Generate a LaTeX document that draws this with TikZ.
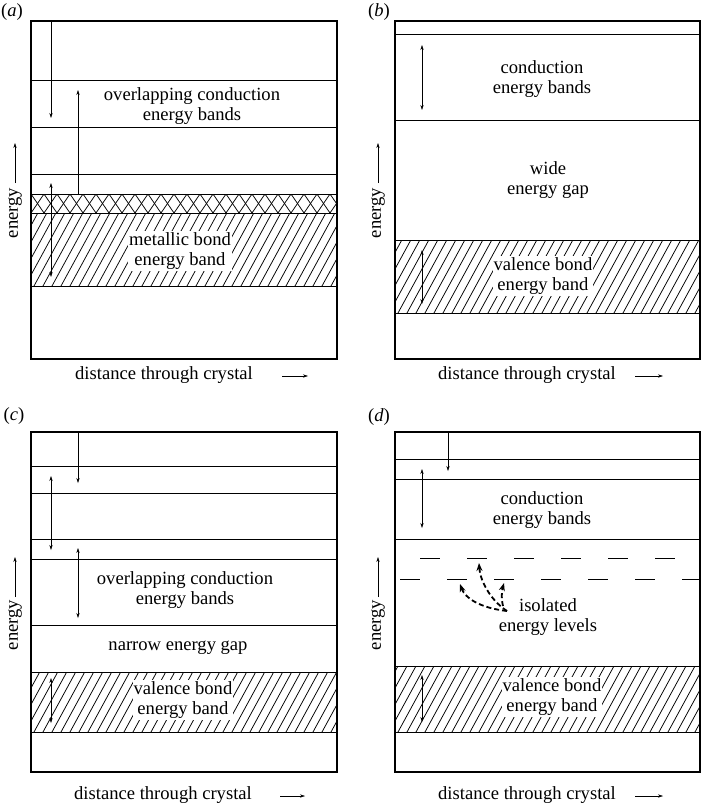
\documentclass[tikz,border=0pt]{standalone}
\usepackage{fontspec}
\setmainfont{Liberation Serif}
\usetikzlibrary{arrows.meta}
\tikzset{>={Stealth[length=5pt,width=3.2pt]}}
\tikzset{
  frame/.style={line width=2pt},
  level/.style={line width=1pt},
  hatchline/.style={line width=0.75pt},
  lbl/.style={align=center, inner sep=1pt, font=\fontsize{18.6}{20.5}\selectfont},
  onhatch/.style={lbl, fill=white},
  jump/.style={->, line width=1.8pt, dash pattern=on 5pt off 3pt,
    >={Stealth[length=8pt,width=6pt]}},
}
% hatched band: left, top, right, bottom
\newcommand\hatchband[4]{%
  \begin{scope}
    \clip (#1,#2) rectangle (#3,#4);
    \foreach \i in {0,...,42} \draw[hatchline] (#1-60+9*\i,#4) -- ++(60,-110);
  \end{scope}}

\begin{document}
\begin{tikzpicture}[x=1pt,y=-1pt]
  \useasboundingbox (0,0) rectangle (702,803);

  % (a) metal
  \hatchband{31}{213}{337}{286}
  \begin{scope}
    \clip (31,194) rectangle (337,213);
    \foreach \i in {0,...,26} {
      \draw[hatchline] (18+13*\i,213) -- ++(13,-19);
      \draw[hatchline] (18+13*\i,194) -- ++(13,19);
    }
  \end{scope}
  \foreach \y in {80,127,174,194,213,286} \draw[level] (31,\y) -- (337,\y);
  \draw[frame] (31,21) rectangle (337,359);
  \node[lbl] (acond) at (192,106) {overlapping conduction\\energy bands};
  \node[onhatch] (ametal) at (180,251) {metallic bond\\energy band};
  \draw[->] (51,21) -- (51,118);
  \draw[->] (78,194) -- (78,90);
  \draw[<->] (51,183) -- (51,277);
  \node[lbl] (alab) at (12,12) {(\textit{a})};
  \node[lbl, rotate=90] (aen) at (15,213) {energy};
  \draw[->] (15,183) -- (15,143);
  \node[lbl] (adist) at (164,375) {distance through crystal};
  \draw[->] (282,376) -- (308,376);

  % (b) insulator
  \hatchband{395}{240}{700}{313}
  \foreach \y in {34,120,240,313} \draw[level] (395,\y) -- (700,\y);
  \draw[frame] (395,21) rectangle (700,359);
  \node[lbl] (bcond) at (542,79) {conduction\\energy bands};
  \node[lbl] (bgap) at (548,180) {wide\\energy gap};
  \node[onhatch] (bval) at (543,276) {valence bond\\energy band};
  \draw[<->] (422,45) -- (422,110);
  \draw[<->] (422,250) -- (422,304);
  \node[lbl] (blab) at (379,12) {(\textit{b})};
  \node[lbl, rotate=90] (ben) at (378,213) {energy};
  \draw[->] (378,183) -- (378,143);
  \node[lbl] (bdist) at (527,375) {distance through crystal};
  \draw[->] (635,376) -- (663,376);

  % (c) semiconductor
  \hatchband{31}{672}{337}{732}
  \foreach \y in {466,493,539,559,625,672,732} \draw[level] (31,\y) -- (337,\y);
  \draw[frame] (31,432) rectangle (337,772);
  \node[lbl] (ccond) at (185,590) {overlapping conduction\\energy bands};
  \node[lbl] (cgap) at (178,648) {narrow energy gap};
  \node[onhatch] (cval) at (183,700) {valence bond\\energy band};
  \draw[->] (78,432) -- (78,483);
  \draw[<->] (51,476) -- (51,550);
  \draw[<->] (78,548) -- (78,618);
  \draw[<->] (51,678) -- (51,723);
  \node[lbl] (clab) at (14,416) {(\textit{c})};
  \node[lbl, rotate=90] (cen) at (15,625) {energy};
  \draw[->] (15,597) -- (15,557);
  \node[lbl] (cdist) at (163,795) {distance through crystal};
  \draw[->] (280,796) -- (305,796);

  % (d) doped
  \hatchband{395}{666}{700}{732}
  \foreach \y in {459,479,539,666,732} \draw[level] (395,\y) -- (700,\y);
  \draw[level, dash pattern=on 20pt off 27pt] (420,558) -- (675,558);
  \draw[level, dash pattern=on 20pt off 27pt] (400,579) -- (700,579);
  \draw[frame] (395,432) rectangle (700,772);
  \node[lbl] (dcond) at (542,510) {conduction\\energy bands};
  \node[lbl] (diso) at (548,617) {isolated\\energy levels};
  \node[onhatch] (dval) at (552,697) {valence bond\\energy band};
  \draw[->] (448,432) -- (448,471);
  \draw[<->] (422,469) -- (422,528);
  \draw[<->] (422,675) -- (422,722);
  \coordinate (dsrc) at (507,611);
  \draw[jump] (dsrc) .. controls (480,608) and (465,598) .. (460,584);
  \draw[jump] (dsrc) .. controls (490,600) and (480,580) .. (479,563);
  \draw[jump] (503,606) .. controls (501,598) and (502,590) .. (504,583);
  \node[lbl] (dlab) at (379,417) {(\textit{d})};
  \node[lbl, rotate=90] (den) at (378,625) {energy};
  \draw[->] (378,597) -- (378,557);
  \node[lbl] (ddist) at (527,795) {distance through crystal};
  \draw[->] (635,796) -- (663,796);
\end{tikzpicture}
\end{document}
